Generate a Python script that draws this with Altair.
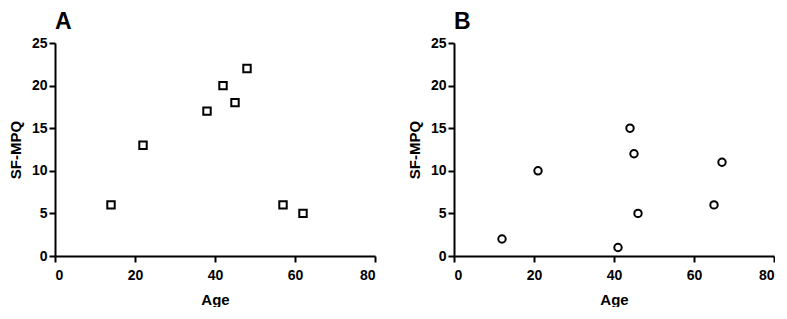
import altair as alt
import pandas as pd

age_a = [14, 22, 38, 42, 45, 48, 57, 62]
sfmpq_a = [6, 13, 17, 20, 18, 22, 6, 5]
age_b = [12, 21, 41, 44, 45, 46, 65, 67]
sfmpq_b = [2, 10, 1, 15, 12, 5, 6, 11]

df_a = pd.DataFrame({"Age": age_a, "SF-MPQ": sfmpq_a})
df_b = pd.DataFrame({"Age": age_b, "SF-MPQ": sfmpq_b})

FONT = "Liberation Sans"

def panel(df, shape, label):
    return alt.Chart(df, title=alt.Title(label, anchor="start", frame="group", fontSize=23,
                                         fontWeight="bold", font=FONT, color="black", offset=2)).mark_point(
        shape=shape, filled=False, color="black", strokeWidth=2, size=55, opacity=1
    ).encode(
        x=alt.X("Age:Q", scale=alt.Scale(domain=[0, 80], nice=False),
                axis=alt.Axis(values=[0, 20, 40, 60, 80], title="Age",
                              labelPadding=6, titlePadding=10)),
        y=alt.Y("SF-MPQ:Q", scale=alt.Scale(domain=[0, 25], nice=False),
                axis=alt.Axis(values=[0, 5, 10, 15, 20, 25], title="SF-MPQ")),
    ).properties(width=320, height=213)

a = panel(df_a, "square", "A")
b = panel(df_b, "circle", "B")

chart = alt.hconcat(a, b, spacing=31).properties(
    padding={"left": 0, "top": 3, "right": 0, "bottom": 0}
).configure_view(stroke=None).configure_axis(
    grid=False,
    domainColor="black", domainWidth=2,
    tickColor="black", tickWidth=2, tickSize=6,
    labelFont=FONT, labelFontSize=14, labelFontWeight="bold", labelColor="black",
    titleFont=FONT, titleFontSize=15, titleFontWeight="bold", titleColor="black",
    labelPadding=2, titlePadding=8,
)

chart.save("out.html", embed_options={"renderer": "svg", "actions": False})
